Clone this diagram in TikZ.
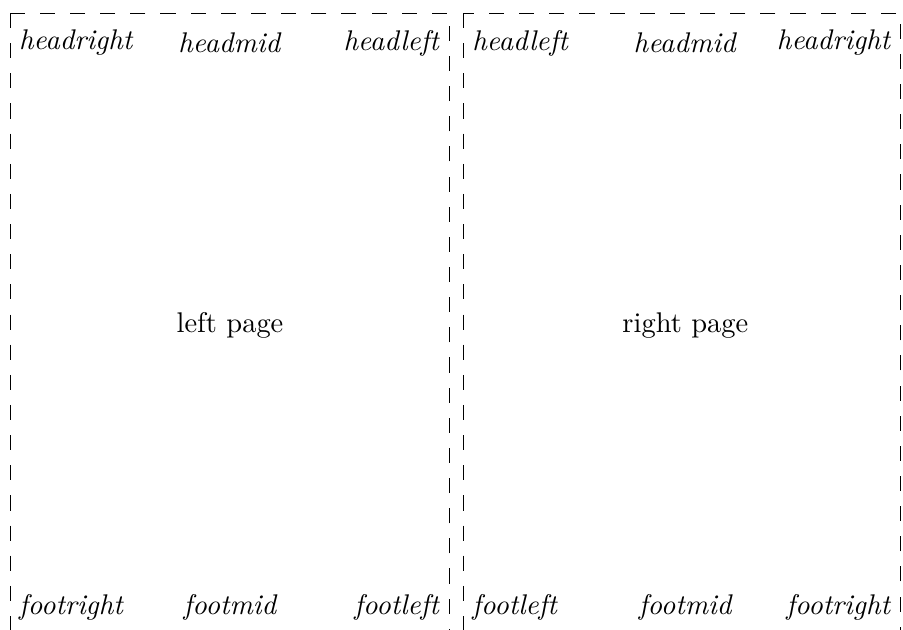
\documentclass[tikz,border=0pt]{standalone}

\begin{document}
\begin{tikzpicture}[every node/.style={font=\fontsize{10.95}{13.6}\selectfont},
  pageframe/.style={dash pattern=on 5.8pt off 5.8pt, line width=0.35pt}]
\useasboundingbox (0, 0) rectangle (12.21, 8.51);

\draw[pageframe] (0.135, 8.334) rectangle (6.074, -0.3);
\draw[pageframe] (6.264, 8.334) rectangle (12.175, -0.3);

\node[anchor=west] (lhr) at (0.135, 7.93) {\textit{headright}};
\node (lhm) at (3.11, 7.93) {\textit{headmid}};
\node[anchor=east] (lhl) at (6.074, 7.93) {\textit{headleft}};

\node[anchor=west] (rhl) at (6.264, 7.93) {\textit{headleft}};
\node (rhm) at (9.267, 7.93) {\textit{headmid}};
\node[anchor=east] (rhr) at (12.175, 7.93) {\textit{headright}};

\node (lpage) at (3.11, 4.11) {left page};
\node (rpage) at (9.267, 4.11) {right page};

\node[anchor=west] (lfr) at (0.135, 0.30) {\textit{footright}};
\node (lfm) at (3.118, 0.30) {\textit{footmid}};
\node[anchor=east] (lfl) at (6.074, 0.30) {\textit{footleft}};

\node[anchor=west] (rfl) at (6.264, 0.30) {\textit{footleft}};
\node (rfm) at (9.274, 0.30) {\textit{footmid}};
\node[anchor=east] (rfr) at (12.175, 0.30) {\textit{footright}};

\end{tikzpicture}
\end{document}
